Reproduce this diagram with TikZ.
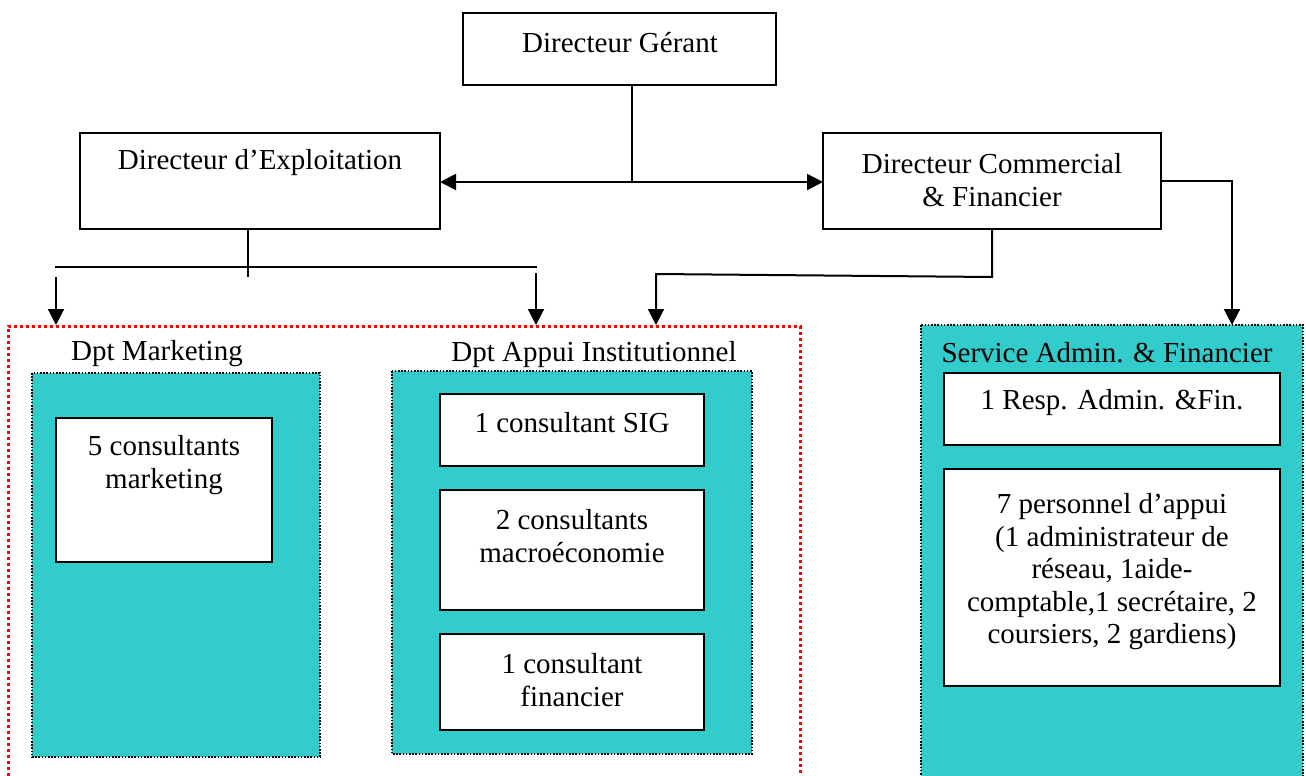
\documentclass[tikz,border=0pt]{standalone}
\usepackage{fontspec}
\setmainfont{Liberation Serif}
\usetikzlibrary{arrows.meta}
\definecolor{teal}{RGB}{51,204,204}
\definecolor{dotred}{RGB}{255,0,0}
\begin{document}
\begin{tikzpicture}[x=1pt,y=-1pt,
  every node/.style={font=\fontsize{29}{33}\selectfont, inner sep=0pt},
  box/.style={draw=black, line width=2pt, fill=white},
  label/.style={align=center},
  dept/.style={draw=black, fill=teal, line width=1.6pt, dash pattern=on 1.6pt off 1.6pt},
  link/.style={line width=2pt},
  arr/.style={link, -{Triangle[length=16pt,width=16pt]}}]
\clip (0,0) rectangle (1306,776);
\fill[white] (0,0) rectangle (1306,776);

% direction boxes
\draw[box] (463,13) rectangle (776,85);
\node[label] (dg) at (620,43) {Directeur Gérant};
\coordinate (dgS) at (632,85);

\draw[box] (80,133) rectangle (440,229);
\node[label] (de) at (260,163) {Directeur d’Exploitation};
\coordinate (deE) at (440,182);
\coordinate (deS) at (248,229);

\draw[box] (823,133) rectangle (1161,229);
\node[label] (dc) at (992,180) {Directeur Commercial\\\& Financier};
\coordinate (dcW) at (823,182);
\coordinate (dcS) at (992,229);
\coordinate (dcE) at (1161,181);

% operations group (red dotted frame)
\draw[dotred, line width=3pt, dash pattern=on 3pt off 3pt]
  (8,800) -- (8,326) -- (800,326) -- (800,800);
\coordinate (grpA) at (56,325);
\coordinate (grpB) at (536,325);
\coordinate (grpC) at (656,325);

% Dpt Marketing
\node (mkt) at (157,354) {Dpt Marketing};
\draw[dept] (32,373) rectangle (320,757);
\draw[box] (56,418) rectangle (272,562);
\node[label] (mk) at (164,465) {5 consultants\\marketing};

% Dpt Appui Institutionnel
\node (api) at (594,355) {Dpt Appui Institutionnel};
\draw[dept] (392,371) rectangle (752,754);
\draw[box] (440,394) rectangle (704,466);
\node[label] (sig) at (572,423) {1 consultant SIG};
\draw[box] (440,490) rectangle (704,610);
\node[label] (mac) at (572,536) {2 consultants\\macroéconomie};
\draw[box] (440,634) rectangle (704,730);
\node[label] (fin) at (572,680) {1 consultant\\financier};

% Service Admin. & Financier
\draw[dept] (921,325) rectangle (1303,800);
\coordinate (saf) at (1232,325);
\node (sv) at (1107,353) {Service Admin. \& Financier};
\draw[box] (944,373) rectangle (1280,445);
\node[label] (resp) at (1112,403) {1 Resp. Admin. \&Fin.};
\draw[box] (944,469) rectangle (1280,686);
\node[label, font=\fontsize{29}{32.5}\selectfont] (pers) at (1112,572)
  {7 personnel d’appui\\(1 administrateur de\\réseau, 1aide-\\comptable,1 secrétaire, 2\\coursiers, 2 gardiens)};

% connectors
\coordinate (dgJ) at (632,182);
\draw[link] (dgS) -- (dgJ);
\draw[arr] (dgJ) -- (deE);
\draw[arr] (dgJ) -- (dcW);

\coordinate (deJ) at (248,277);
\coordinate (barL) at (55,267);
\coordinate (barR) at (537,267);
\draw[link] (deS) -- (deJ);
\draw[link] (barL) -- (barR);
\coordinate (arrA) at (56,277);
\coordinate (arrB) at (536,273);
\draw[arr] (arrA) -- (grpA);
\draw[arr] (arrB) -- (grpB);

\draw[arr] (dcS) -- (992,277) -- (656,274) -- (grpC);
\draw[arr] (dcE) -- (1232,181) -- (saf);
\end{tikzpicture}
\end{document}
